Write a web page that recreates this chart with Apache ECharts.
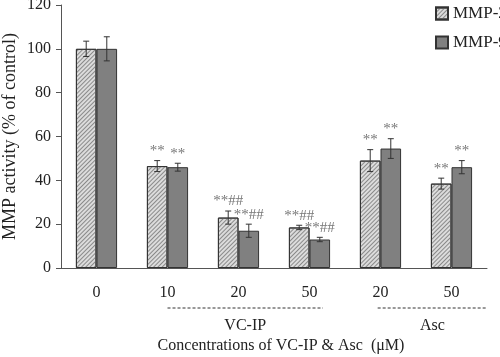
<!DOCTYPE html>
<html>
<head>
<meta charset="utf-8">
<script src="https://cdn.jsdelivr.net/npm/echarts@6/dist/echarts.min.js"></script>
<style>html,body{margin:0;padding:0;background:#fff}#c{width:500px;height:357px}</style>
</head>
<body>
<div id="c"></div>
<script>
var categories = ['0', '10', '20', '50', '20', '50'];
var mmp2 = [100, 46.5, 23, 18.5, 49, 38.5];
var mmp2Err = [3.5, 2.5, 3, 1, 5, 2.5];
var mmp9 = [100, 46, 17, 13, 54.5, 46];
var mmp9Err = [5.5, 1.8, 3, 1, 4.5, 3];
var mmp2Sig = ['', '**', '**##', '**##', '**', '**'];
var mmp9Sig = ['', '**', '**##', '**##', '**', '**'];
var yTicks = [0, 20, 40, 60, 80, 100, 120];
var groups = [
  {label: 'VC-IP', start: 1.0, end: 3.19},
  {label: 'Asc', start: 3.96, end: 5.5}
];
var xTitle = 'Concentrations of VC-IP & Asc  (\u03bcM)';
var yTitle = 'MMP activity (% of control)';

var FONT = '"Liberation Serif", "DejaVu Serif", serif';
var CAT_GAP = 0.42;

function errSeries(name, vals, errs, sigs, side) {
  var data = vals.map(function (v, i) { return [i, v, errs[i], sigs[i]]; });
  return {
    type: 'custom',
    name: name + ' err',
    data: data,
    encode: {x: 0, y: 1},
    z: 10,
    silent: true,
    renderItem: function (params, api) {
      var i = api.value(0), v = api.value(1), e = api.value(2);
      var sig = data[params.dataIndex][3];
      var band = api.size([1, 0])[0];
      var bw = band * (1 - CAT_GAP) / 2;
      var c = api.coord([i, v]);
      var x = c[0] + side * bw / 2;
      var top = api.coord([i, v + e])[1];
      var bot = api.coord([i, v - e])[1];
      var cap = 3;
      var st = {stroke: '#333', lineWidth: 1};
      var children = [
        {type: 'line', shape: {x1: x, y1: top, x2: x, y2: bot}, style: st},
        {type: 'line', shape: {x1: x - cap, y1: top, x2: x + cap, y2: top}, style: st},
        {type: 'line', shape: {x1: x - cap, y1: bot, x2: x + cap, y2: bot}, style: st}
      ];
      if (sig) {
        children.push({type: 'text', x: x, y: top - 2, style: {
          text: sig, fill: '#777', font: '15px ' + FONT, align: 'center', verticalAlign: 'bottom'
        }});
      }
      return {type: 'group', children: children};
    }
  };
}

var chart = echarts.init(document.getElementById('c'), null, {renderer: 'canvas'});
var option = {
  animation: false,
  backgroundColor: '#fff',
  textStyle: {fontFamily: FONT},
  grid: {left: 61, right: 13, top: 5, bottom: 89, containLabel: false, outerBoundsMode: 'none'},
  legend: {
    orient: 'vertical', left: 435, top: 5, padding: 0, itemWidth: 12, itemHeight: 12, itemGap: 12,
    icon: 'rect',
    textStyle: {fontFamily: FONT, fontSize: 17, color: '#222'},
    data: ['MMP-2', 'MMP-9']
  },
  xAxis: {
    type: 'category', data: categories,
    axisLine: {lineStyle: {color: '#555'}},
    axisTick: {length: 5, lineStyle: {color: '#555'}},
    axisLabel: {fontFamily: FONT, fontSize: 16, color: '#222', margin: 17}
  },
  yAxis: {
    type: 'value', min: yTicks[0], max: yTicks[yTicks.length - 1], interval: 20,
    axisLine: {show: true, lineStyle: {color: '#555'}},
    axisTick: {show: true, length: 5, lineStyle: {color: '#555'}},
    splitLine: {show: false},
    axisLabel: {fontFamily: FONT, fontSize: 16, color: '#222', margin: 10}
  },
  series: [
    {
      type: 'bar', name: 'MMP-2', data: mmp2, barGap: '0%', barCategoryGap: (CAT_GAP * 100) + '%',
      itemStyle: {
        color: '#dcdcdc', borderColor: '#333', borderWidth: 1,
        decal: {symbol: 'rect', dashArrayX: [1, 0], dashArrayY: [1, 1.6], rotation: -Math.PI / 4, color: '#8a8a8a', symbolSize: 1}
      }
    },
    {
      type: 'bar', name: 'MMP-9', data: mmp9,
      itemStyle: {color: '#808080', borderColor: '#333', borderWidth: 1}
    },
    errSeries('MMP-2', mmp2, mmp2Err, mmp2Sig, -1),
    errSeries('MMP-9', mmp9, mmp9Err, mmp9Sig, 1)
  ]
};
chart.setOption(option);

var p0 = chart.convertToPixel({xAxisIndex: 0}, 0);
var p1 = chart.convertToPixel({xAxisIndex: 0}, 1);
var band = p1 - p0;
var y0 = chart.convertToPixel({yAxisIndex: 0}, 0);
var yTop = chart.convertToPixel({yAxisIndex: 0}, yTicks[yTicks.length - 1]);
var gl = p0 - band / 2;
var gr = gl + band * categories.length;
var graphics = [];
groups.forEach(function (g) {
  var xa = p0 + g.start * band, xb = p0 + g.end * band;
  graphics.push({type: 'line', shape: {x1: xa, y1: y0 + 40, x2: xb, y2: y0 + 40},
    style: {stroke: '#333', lineWidth: 1, lineDash: [3, 2]}});
  graphics.push({type: 'text', x: (xa + xb) / 2, y: y0 + 58, style: {
    text: g.label, font: '16px ' + FONT, fill: '#222', align: 'center', verticalAlign: 'middle'}});
});
graphics.push({type: 'text', x: (gl + gr) / 2 + 7, y: y0 + 78, style: {
  text: xTitle, font: '16px ' + FONT, fill: '#222', align: 'center', verticalAlign: 'middle'}});
graphics.push({type: 'text', x: gl - 51, y: (y0 + yTop) / 2, rotation: Math.PI / 2, style: {
  text: yTitle, font: '18px ' + FONT, fill: '#222', align: 'center', verticalAlign: 'middle'}});
chart.setOption({graphic: graphics});
</script>
</body>
</html>
